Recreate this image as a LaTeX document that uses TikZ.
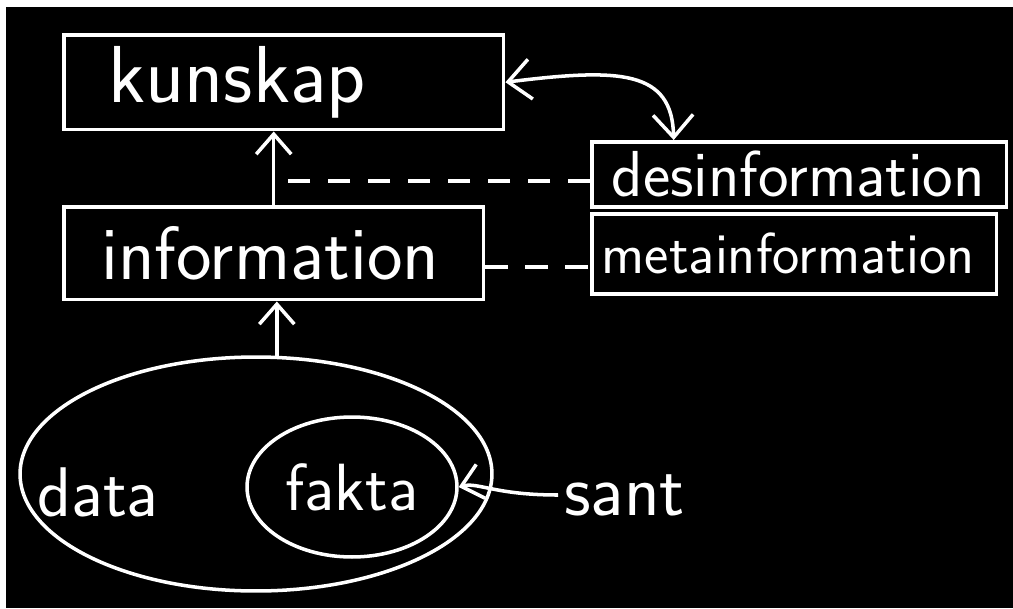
\documentclass[tikz,border=0pt]{standalone}
\usetikzlibrary{arrows.meta,shapes.geometric,calc}
\begin{document}
\begin{tikzpicture}[x=0.02cm,y=-0.02cm,
  chalk/.style={draw=white,line width=2pt},
  hand/.style={text=white,font=\sffamily\fontsize{#1}{#1}\selectfont},
  box/.style={chalk,rectangle,anchor=north west,align=left,inner ysep=0pt},
  arr/.style={chalk,-{Straight Barb[length=0.4cm,width=0.7cm]}},
  dashline/.style={chalk,dash pattern=on 0.45cm off 0.35cm}]
\fill[white] (0,0) rectangle (1013,608);
\fill[black] (6,7) rectangle (1013,608);
% boxes
\node[box,hand=46,inner xsep=0.9cm,text width=7cm,minimum height=1.9cm] (kunskap) at (62,33) {kunskap};
\node[box,hand=43,inner xsep=0.75cm,text width=6.9cm,minimum height=1.86cm] (information) at (62,205) {information};
\node[box,hand=37,inner xsep=0.4cm,text width=7.5cm,minimum height=1.3cm] (desinformation) at (590,140) {desinformation};
\node[box,hand=33,inner xsep=0.2cm,text width=7.7cm,minimum height=1.6cm] (metainformation) at (590,212) {metainformation};
% data and fakta
\node[chalk,ellipse,minimum width=9.44cm,minimum height=4.68cm] (dataset) at (256,474) {};
\node[hand=40] (datatext) at (98,492) {data};
\node[chalk,ellipse,hand=38,inner sep=0pt,minimum width=4.2cm,minimum height=2.8cm] (fakta) at (352,487) {fakta};
\node[hand=42,anchor=west] (sant) at (558,495) {sant};
% connectors
\draw[arr] (information.north) -- (information.north |- kunskap.south);
\draw[arr] (dataset.80) -- (dataset.80 |- information.south);
\draw[dashline] ([yshift=-0.14cm]desinformation.west) -- ([yshift=-0.14cm]information.north |- desinformation.west);
\draw[dashline] ([yshift=-0.28cm]information.east) -- ([yshift=-0.28cm]information.east -| metainformation.west);
\draw[chalk,{Straight Barb[length=0.45cm,width=0.8cm]}-{Straight Barb[length=0.45cm,width=0.8cm]}] (kunskap.east) .. controls (620,68) and (672,70) .. ($(desinformation.north west)!0.2!(desinformation.north east)$);
\draw[arr] (sant.west) .. controls (495,495) and (478,482) .. (fakta.east);
\end{tikzpicture}
\end{document}
